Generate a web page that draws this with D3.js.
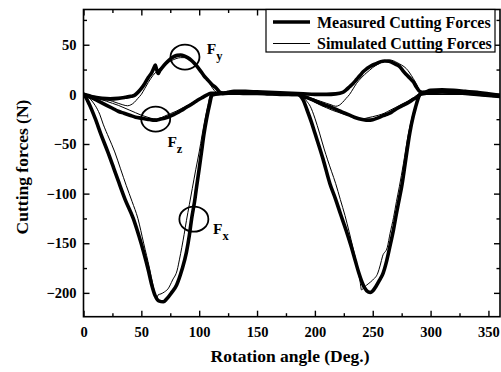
<!DOCTYPE html>
<html><head><meta charset="utf-8">
<script src="https://cdn.jsdelivr.net/npm/d3@7/dist/d3.min.js"></script>
<style>
html,body{margin:0;padding:0;background:#fff;}
svg{display:block;}
svg text{font-family:"Liberation Serif","Times New Roman",serif !important;font-weight:bold;fill:#000;}
</style></head><body>
<svg id="chart" width="501" height="372"></svg>
<script>
// ---- data ----
const xTicks = [0, 50, 100, 150, 200, 250, 300, 350];
const yTicks = [-200, -150, -100, -50, 0, 50];
const legendLabels = ["Measured Cutting Forces", "Simulated Cutting Forces"];
const xTitle = "Rotation angle (Deg.)";
const yTitle = "Cutting forces (N)";

const measuredFx = [[0,0],[2,-3],[5,-10],[10,-24],[15,-40],[21,-58],[26,-74],[30,-87],[36,-106],[43,-125],[48,-143],[52,-159],[56,-177],[59,-192],[62,-203],[65,-208],[69,-209],[72,-206],[76,-200],[80.5,-192],[85,-177],[89,-159],[91.5,-142],[93.5,-125],[96,-108],[98,-91],[100,-75],[102,-58],[104,-41],[106.5,-24],[109,-10],[111,-1],[114,0],[120,1],[130,2],[140,2],[150,1.5],[160,1],[170,0.5],[180,0],[185,0],[187,-1],[190,-6],[193,-15],[197,-28],[200,-39],[207,-65],[213,-90],[218,-106],[222,-120],[227,-137],[231.6,-154],[235,-168],[238,-180],[241,-190],[243,-195],[246,-199],[248,-199.5],[250,-198],[253,-193],[256,-187],[259,-180],[262,-168],[264.7,-154],[268,-136],[270.5,-120],[273,-105],[275,-93],[278,-70],[282,-39],[285,-22],[287,-13],[289,-5],[291,0],[295,1],[300,2],[310,3],[320,2],[330,1],[340,0],[350,-1],[360,-2]];
const simulatedFx = [[0,0],[3,-2],[6,-5],[10,-11],[14,-20],[17,-30],[22,-44],[27,-58],[32,-75],[37,-92],[42,-108],[47,-125],[52,-150],[57,-175],[60,-192],[62,-202],[63.5,-205],[64.5,-202],[67,-201],[70,-199],[73,-196],[77,-187],[81,-177],[83,-166],[85,-154],[87,-141],[89,-127],[91.5,-111],[94,-95],[97,-76],[100,-58],[102.5,-41],[105,-25],[107.5,-11],[110,0],[115,0],[180,0],[185,0],[190,-3],[193,-7],[196,-12],[200,-24],[204,-39],[208,-55],[211,-66],[214.5,-78],[218,-90],[222,-106],[226,-122],[229.5,-138],[232.8,-154],[235,-165],[237,-176],[239,-188],[240.3,-197],[241.5,-196],[243,-194],[246,-191],[250,-187],[254.4,-180],[256.5,-172],[258.5,-163],[262.6,-154],[265,-140],[268,-124],[270.5,-108],[273,-93],[276.5,-70],[280,-45],[283,-28],[286,-15],[288.5,-6],[291,0],[295,0],[360,0]];
const measuredFy = [[0,0],[5,-1.5],[10,-3],[16,-4],[23,-4.5],[30,-4],[36,-3],[41,-2],[44,-1],[47,2],[50,6],[53,11],[56,17],[59,22],[61,27],[62,29.5],[63,26],[64.6,21],[66,24],[68,27],[71,31],[74,34.5],[78,38],[81,39.3],[84,39.6],[87,38.8],[90,37],[93,34.5],[96,31],[100.6,24.5],[104,19],[107,15],[111,10],[115,6],[118,2],[121,1],[125,2],[130,3],[140,3],[150,2.5],[160,2],[170,1.5],[180,1],[190,0.5],[200,0],[210,0],[218,0.5],[224,2],[227,4.5],[230,7.7],[233,11],[236,15],[239,19],[241.7,22.8],[245,26],[249,29],[253,31],[257,33],[260.4,33.6],[264,33.4],[267,32],[270,30.2],[273.4,27.8],[276,24],[279,20],[282,16.5],[285,12.7],[288,7],[291,2.6],[294,2],[300,4],[310,4.5],[320,4],[330,3],[340,2],[350,0.5],[360,-1]];
const simulatedFy = [[0,0],[5,-1],[10,-2],[15,-3.5],[20,-5],[25,-7],[30,-9],[34,-10.5],[38,-11.5],[41,-10.5],[44,-8],[47,-4],[50,0],[53,6],[56,12],[60,19],[64,24],[68,28],[72,31.5],[76,34],[80,36],[84,37],[88,37],[92,35],[96,31],[100,26],[104,20],[107,15],[110,9],[113,4],[116,1],[119,0],[185,0],[190,-1.5],[195,-3],[200,-5],[205,-7],[210,-9],[214,-10.5],[218,-12],[221,-11],[224,-8],[227,-4],[230,0],[233,5.5],[236,11],[240,16.5],[243,20],[247,24],[250,27],[254,30],[257,32],[261,34],[264.7,34.6],[268,33.8],[271,32],[275,29.5],[279,26],[282,21.5],[285,16],[287.5,11],[289.5,6],[291,2],[292,0],[360,0]];
const measuredFz = [[0,0],[5,-2.5],[10,-5],[15,-8],[20,-11],[25,-14],[30,-17],[35,-19],[40,-21],[45,-23],[50,-24],[55,-25],[58,-25.5],[61,-26],[63,-26],[66,-25],[70,-24],[74,-22.5],[78,-20.5],[82,-18],[85,-16],[89,-13],[92,-11],[96,-8],[100,-5],[103,-3],[106,-1],[110,1],[115,1],[120,1],[130,1.5],[140,1],[150,1],[160,0.5],[170,0],[180,0],[185,0],[190,-2],[195,-4],[200,-6.5],[205,-9],[209,-11],[213,-12.5],[218,-15],[222,-17],[226,-19],[230,-21],[234,-23],[238,-24.5],[242,-25.5],[246,-26],[250,-25.5],[254,-24],[258,-22],[261,-20.5],[264.7,-19],[268,-16.5],[273,-13],[277,-10.5],[282,-7.5],[285,-5],[288,-3],[290,-1],[292,1],[296,2],[300,2],[310,2.5],[320,2],[330,1.5],[340,0.5],[350,-0.5],[360,-1.5]];
const simulatedFz = [[0,0],[5,-1.5],[10,-3],[15,-5],[20,-7],[25,-9],[30,-11],[35,-13.5],[40,-16],[45,-18.5],[50,-21],[54,-22.5],[58,-24],[63,-25],[66,-24],[70,-22],[75,-19.5],[80,-17],[85,-14],[90,-11],[95,-8],[100,-5],[104,-2.5],[108,0],[185,0],[190,-2.5],[195,-5],[200,-8],[205,-11],[210,-13.5],[215,-16],[220,-18],[225,-20],[230,-21.5],[235,-23],[239,-24.2],[242,-24.5],[246,-23.5],[250,-22.5],[255,-21],[260,-19],[265,-16],[270,-13],[275,-10],[280,-7],[285,-3.5],[290,0],[360,0]];

// annotation markers (angle, force) and labels
const annotations = [
  {name:"F", sub:"y", at:[87.7, 37.6], label:[106.5, 41]},
  {name:"F", sub:"z", at:[62.4, -24.9], label:[72.5, -53]},
  {name:"F", sub:"x", at:[95.4, -125.7], label:[112, -141]}
];

// ---- layout ----
const svg = d3.select("#chart");
const x = d3.scaleLinear().domain([0, 360]).range([83.5, 500]);
const y = d3.scaleLinear().domain([-224, 85.5]).range([316.7, 9.5]);

const line = d3.line().x(d => x(d[0])).y(d => y(d[1])).curve(d3.curveMonotoneX);

const plot = svg.append("g");
plot.append("clipPath").attr("id","clip").append("rect")
  .attr("x", x(0)).attr("y", y(85.5)).attr("width", x(360)-x(0)).attr("height", y(-224)-y(85.5));
const lines = plot.append("g").attr("clip-path","url(#clip)");

[measuredFx, measuredFy, measuredFz].forEach(s => {
  lines.append("path").attr("d", line(s)).attr("fill","none").attr("stroke","#000")
    .attr("stroke-width", 3.6).attr("stroke-linejoin","round").attr("stroke-linecap","round");
});
[simulatedFx, simulatedFy, simulatedFz].forEach(s => {
  lines.append("path").attr("d", line(s)).attr("fill","none").attr("stroke","#000")
    .attr("stroke-width", 1).attr("stroke-linejoin","round");
});

// axes (ticks inside, mirrored)
const xMinor = d3.range(25, 360, 50);
const yMinor = d3.range(-175, 85, 50);
const axBottom = d3.axisBottom(x).tickValues(xTicks).tickSizeInner(-6).tickSizeOuter(0).tickFormat(d3.format("d"));
const axBottomMinor = d3.axisBottom(x).tickValues(xMinor).tickSizeInner(-3.5).tickSizeOuter(0).tickFormat("");
const axTop = d3.axisTop(x).tickValues(xTicks).tickSizeInner(-6).tickSizeOuter(0).tickFormat("");
const axTopMinor = d3.axisTop(x).tickValues(xMinor).tickSizeInner(-3.5).tickSizeOuter(0).tickFormat("");
const axLeft = d3.axisLeft(y).tickValues(yTicks).tickSizeInner(-6).tickSizeOuter(0).tickFormat(d3.format("d"));
const axLeftMinor = d3.axisLeft(y).tickValues(yMinor).tickSizeInner(-3.5).tickSizeOuter(0).tickFormat("");
const axRight = d3.axisRight(y).tickValues(yTicks).tickSizeInner(-6).tickSizeOuter(0).tickFormat("");
const axRightMinor = d3.axisRight(y).tickValues(yMinor).tickSizeInner(-3.5).tickSizeOuter(0).tickFormat("");

function styleAxis(g){
  g.attr("font-family", null).attr("font-size", null);
  g.selectAll(".domain").remove();
  g.selectAll("line").attr("stroke","#000").attr("stroke-width",1.4);
  g.selectAll("text").style("font-family","'Liberation Serif', serif")
    .style("font-weight","bold").style("font-size","14.5px");
}
const yb = y(-224), yt = y(85.5), xl = x(0), xr = x(360);
svg.append("g").attr("transform",`translate(0,${yb})`).call(axBottom).call(styleAxis)
  .selectAll("text").attr("y", 10).attr("dy","0.71em");
svg.append("g").attr("transform",`translate(0,${yb})`).call(axBottomMinor).call(styleAxis);
svg.append("g").attr("transform",`translate(0,${yt})`).call(axTop).call(styleAxis);
svg.append("g").attr("transform",`translate(0,${yt})`).call(axTopMinor).call(styleAxis);
svg.append("g").attr("transform",`translate(${xl},0)`).call(axLeft).call(styleAxis)
  .selectAll("text").attr("x", -7);
svg.append("g").attr("transform",`translate(${xl},0)`).call(axLeftMinor).call(styleAxis);
svg.append("g").attr("transform",`translate(${xr},0)`).call(axRight).call(styleAxis);
svg.append("g").attr("transform",`translate(${xr},0)`).call(axRightMinor).call(styleAxis);

svg.append("rect").attr("x", xl).attr("y", yt).attr("width", xr-xl).attr("height", yb-yt)
  .attr("fill","none").attr("stroke","#000").attr("stroke-width",1.6);

// titles
svg.append("text").attr("x", 290).attr("y", 362).attr("text-anchor","middle")
  .style("font-size","17.5px").text(xTitle);
svg.append("text").attr("transform","translate(28,167) rotate(-90)").attr("text-anchor","middle")
  .style("font-size","17.5px").text(yTitle);

// legend
const lg = svg.append("g");
lg.append("rect").attr("x", 266).attr("y", yt).attr("width", 229).attr("height", 42.5)
  .attr("fill","#fff").attr("stroke","#000").attr("stroke-width",1.2);
const legendWidths = [3.6, 1];
legendLabels.forEach((t,i) => {
  const cy = 22 + i*21.5;
  lg.append("line").attr("x1",273).attr("x2",310).attr("y1",cy).attr("y2",cy)
    .attr("stroke","#000").attr("stroke-width",legendWidths[i]);
  lg.append("text").attr("x",317).attr("y",cy+5.5).style("font-size","16px").text(t);
});

// annotations
annotations.forEach(a => {
  svg.append("ellipse").attr("cx", x(a.at[0])).attr("cy", y(a.at[1])).attr("rx",14.5).attr("ry",12.5)
    .attr("fill","none").attr("stroke","#000").attr("stroke-width",1.8);
  const t = svg.append("text").attr("x", x(a.label[0])).attr("y", y(a.label[1])).style("font-size","15.5px");
  t.append("tspan").text(a.name);
  t.append("tspan").attr("dy", 6).style("font-size","12.5px").text(a.sub);
});
</script>
</body></html>
